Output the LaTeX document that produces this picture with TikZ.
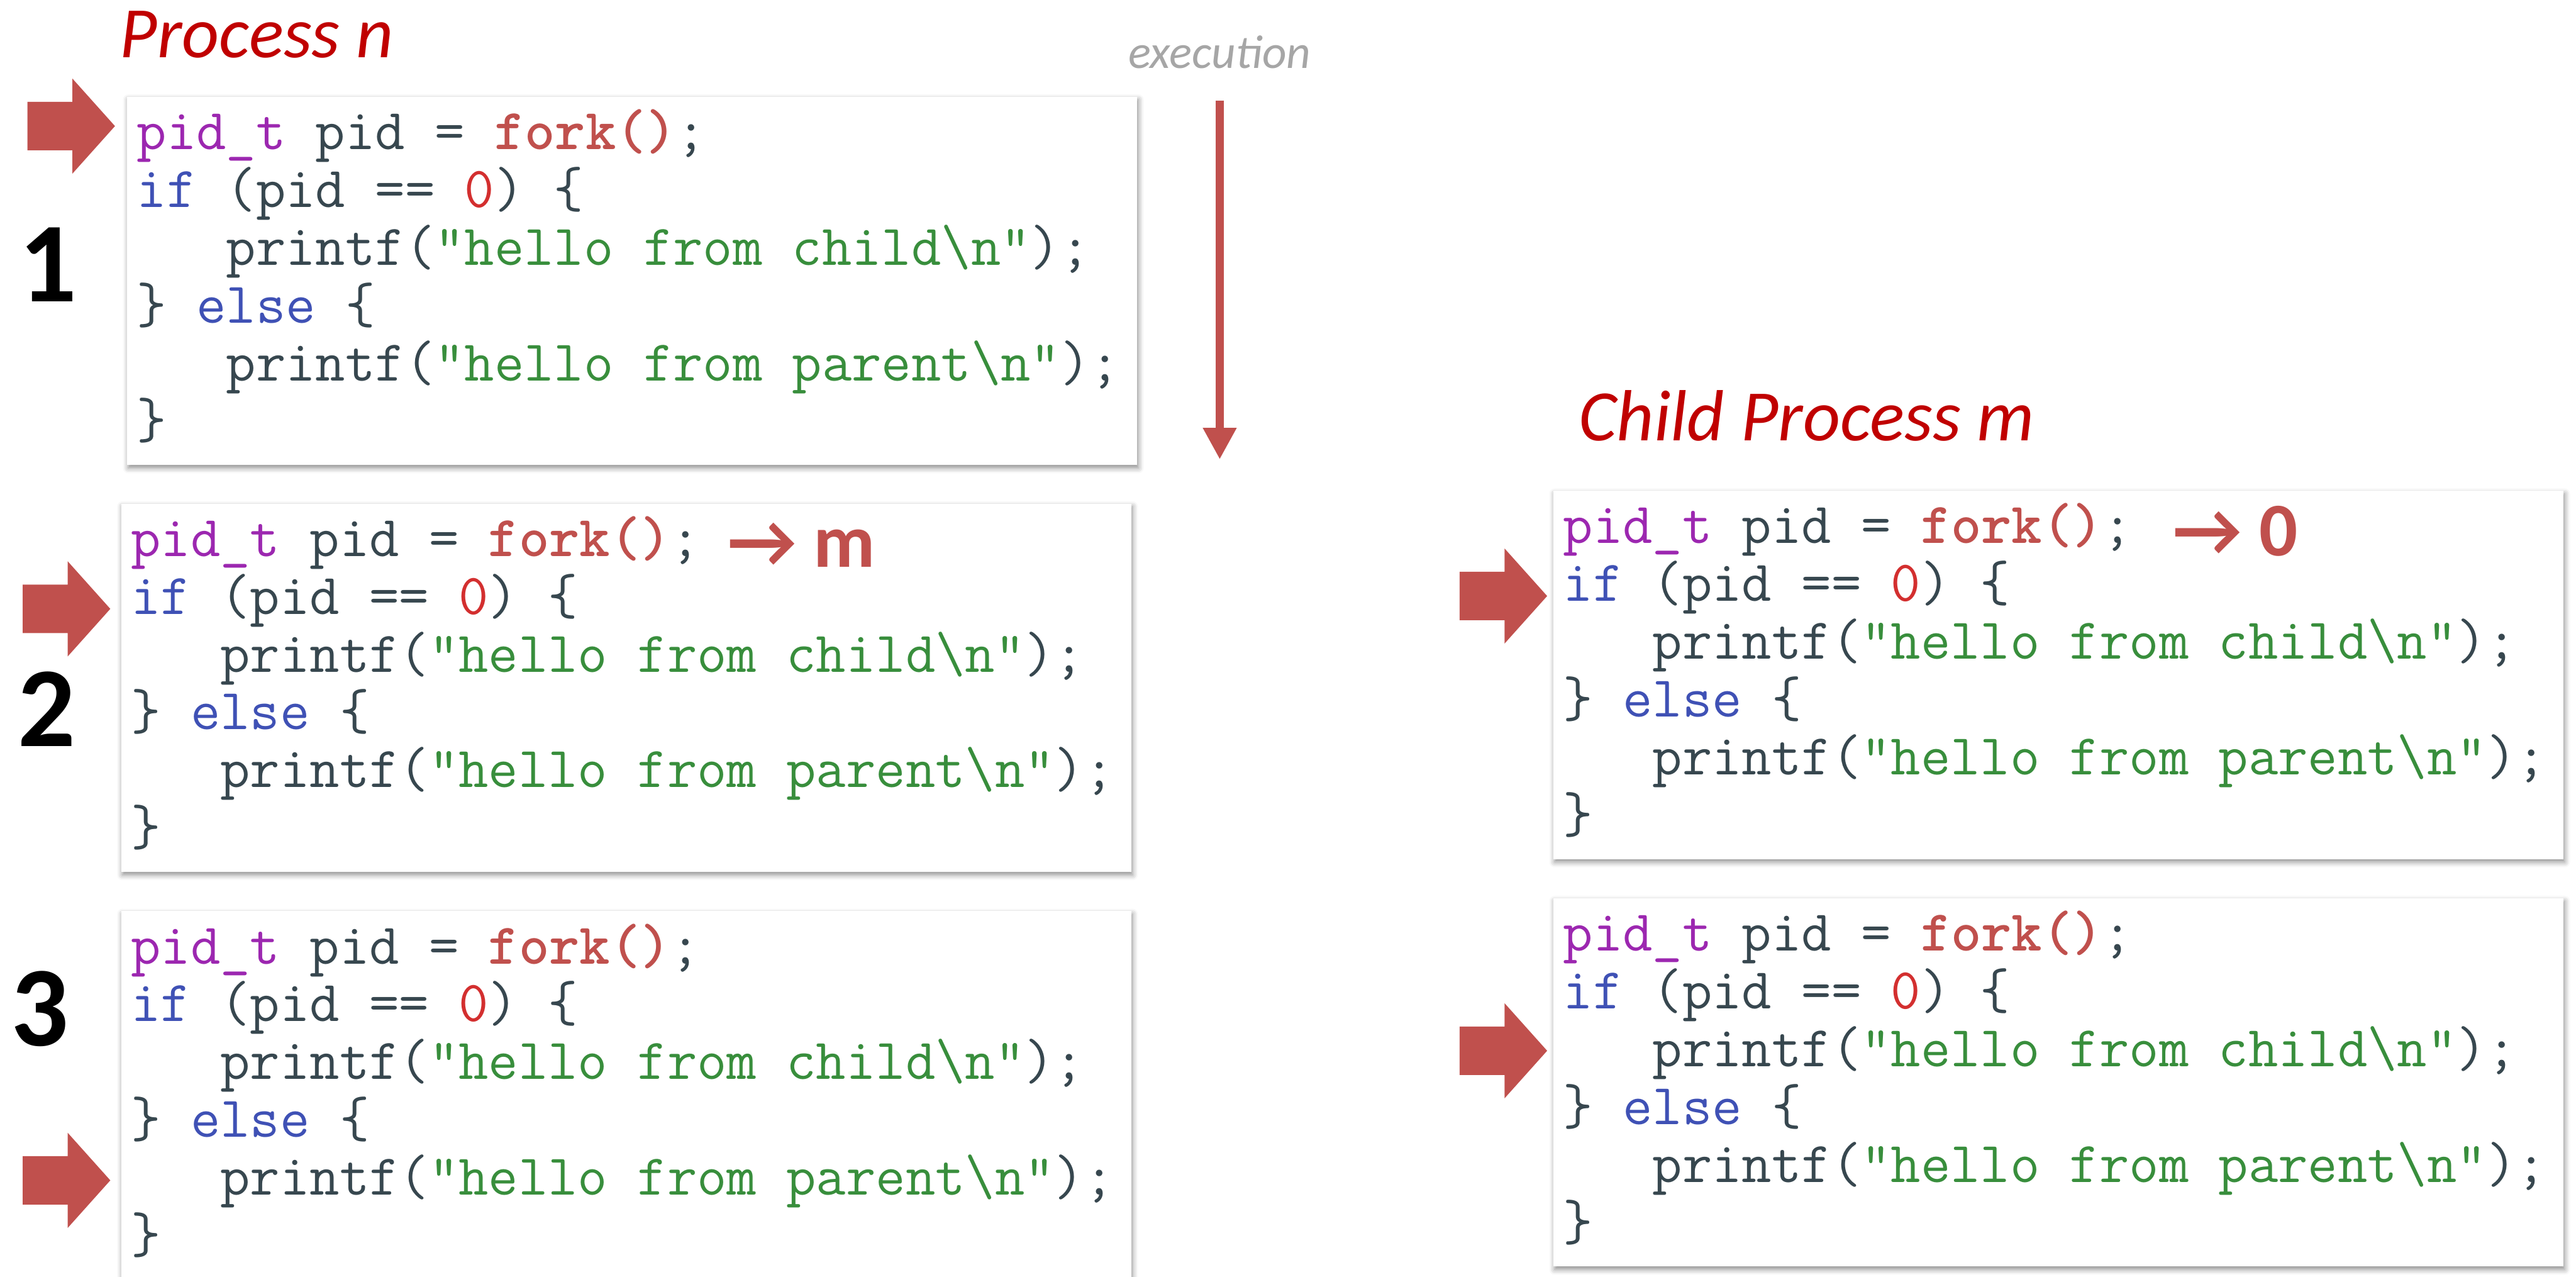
\documentclass[tikz,border=0pt]{standalone}
\usepackage{fontspec}
\newfontfamily\carlito{Carlito}
\usetikzlibrary{arrows.meta,shadows.blur}
\definecolor{titlered}{RGB}{192,0,0}
\definecolor{forkred}{RGB}{192,80,77}
\definecolor{codedark}{RGB}{55,71,79}
\definecolor{codepurple}{RGB}{156,39,176}
\definecolor{codeblue}{RGB}{63,81,181}
\definecolor{codezero}{RGB}{211,47,47}
\definecolor{codegreen}{RGB}{56,142,60}
\definecolor{execgray}{RGB}{166,166,166}

\newcommand{\clA}{{\color{codepurple}pid\_t} pid = {\bfseries\color{forkred}fork()};}
\newcommand{\clB}{{\color{codeblue}if} (pid == {\color{codezero}0}) \{}
\newcommand{\clC}{\phantom{xxx}printf({\color{codegreen}"hello from child\textbackslash n"});}
\newcommand{\clD}{\} {\color{codeblue}else} \{}
\newcommand{\clE}{\phantom{xxx}printf({\color{codegreen}"hello from parent\textbackslash n"});}
\newcommand{\clF}{\}}

\newcommand{\putcode}[1]{%
  \foreach \txt [count=\i from 0] in {{\clA},{\clB},{\clC},{\clD},{\clE},{\clF}}
    \node[codeline] (#1l\i) at ([xshift=0.17cm,yshift=-0.91cm-\i*0.99cm]#1.north west) {\txt};
}

\tikzset{
  pics/blockarrow/.style={code={
    \fill[forkred] (-1.50,0.415) -- (-0.73,0.415) -- (-0.73,0.815) -- (0,0)
      -- (-0.73,-0.815) -- (-0.73,-0.415) -- (-1.50,-0.415) -- cycle;}}
}

\begin{document}
\begin{tikzpicture}[
    codebox/.style={anchor=north west, minimum width=17.31cm, minimum height=6.31cm,
      inner sep=0, fill=white,
      blur shadow={shadow xshift=0.02cm, shadow yshift=-0.05cm, shadow blur radius=0.09cm, shadow opacity=45}},
    codeline/.style={anchor=base west, inner sep=0, text=codedark,
      font=\fontsize{28.2pt}{33pt}\selectfont\ttfamily},
    title/.style={anchor=base west, inner sep=0, text=titlered,
      font=\carlito\itshape\fontsize{35.3pt}{42pt}\selectfont},
    stepno/.style={inner sep=0, font=\carlito\bfseries\fontsize{55.5pt}{66pt}\selectfont},
    result/.style={anchor=base west, inner sep=0, text=forkred,
      font=\carlito\bfseries\fontsize{37pt}{44pt}\selectfont},
    execarrow/.style={forkred, line width=0.14cm, -{Triangle[length=0.54cm,width=0.54cm]}}
  ]
  \useasboundingbox (0,0) rectangle (44.14,-21.87);

  \node[title] (parent) at (2.05,-0.99) {Process n};
  \node[title] (child) at (27.05,-7.55) {Child Process m};

  \node[anchor=base, inner sep=0, text=execgray,
    font=\carlito\itshape\fontsize{23pt}{28pt}\selectfont] (exlbl) at (20.90,-1.17) {execution};
  \coordinate (extop) at (20.90,-1.72);
  \coordinate (exbot) at (20.90,-7.87);
  \draw[execarrow] (extop) -- (exbot);

  \node[codebox] (b1) at (2.17,-1.65) {};
  \node[codebox] (b2) at (2.07,-8.62) {};
  \node[codebox] (b3) at (2.07,-15.60) {};
  \node[codebox] (b4) at (26.61,-8.40) {};
  \node[codebox] (b5) at (26.61,-15.38) {};
  \putcode{b1}
  \putcode{b2}
  \putcode{b3}
  \putcode{b4}
  \putcode{b5}

  \node[result] (ret2) at ([xshift=0.45cm,yshift=-0.19cm]b2l0.base east) {→ m};
  \node[result] (ret4) at ([xshift=0.68cm,yshift=-0.21cm]b4l0.base east) {→ 0};

  \node[stepno] (s1) at (0.82,-4.53) {1};
  \node[stepno] (s2) at (0.80,-12.15) {2};
  \node[stepno] (s3) at (0.68,-17.28) {3};

  \pic at (1.97,-2.16) {blockarrow};
  \pic at (1.89,-10.43) {blockarrow};
  \pic at (1.89,-20.22) {blockarrow};
  \pic at (26.51,-10.21) {blockarrow};
  \pic at (26.51,-18.00) {blockarrow};
\end{tikzpicture}
\end{document}
